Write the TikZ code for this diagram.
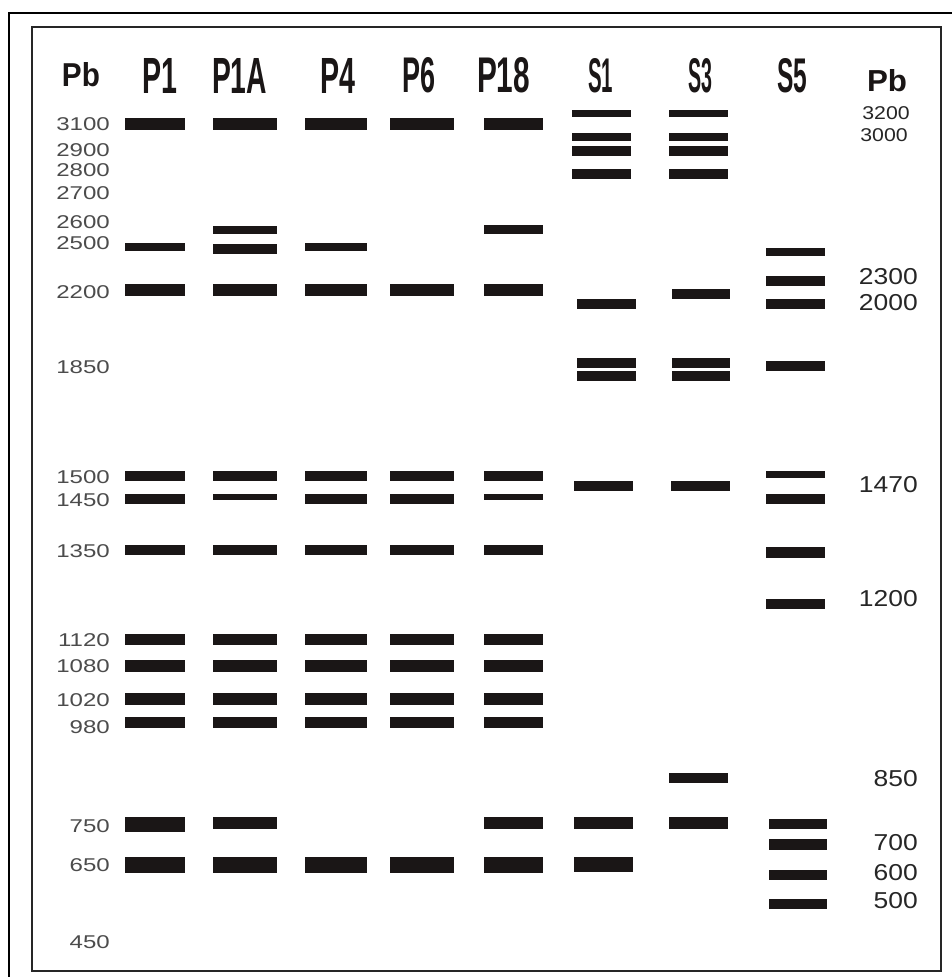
\documentclass[tikz,border=0pt]{standalone}
\usepackage{fontspec}
\setmainfont{Liberation Sans}
\newfontfamily\lblfont[FakeStretch=1.3]{Liberation Sans}
\newfontfamily\rlblfont[FakeStretch=1.15]{Liberation Sans}
\definecolor{bandc}{HTML}{1A1616}
\newcommand\gband[4]{\fill[bandc] (#1,#3) rectangle (#2,#4);}
\newcommand\hdrtxt[3]{\resizebox{#1pt}{#2pt}{\bfseries #3}}
\begin{document}
\begin{tikzpicture}[x=1pt,y=-1pt,
  lbl/.style={anchor=east,inner sep=0pt,text=black!70,font=\lblfont\fontsize{18.5pt}{18.5pt}\selectfont},
  rlbl/.style={anchor=east,inner sep=0pt,text=black!85,font=\rlblfont\fontsize{23pt}{23pt}\selectfont},
  slbl/.style={anchor=center,inner sep=0pt,text=black!85,font=\rlblfont\fontsize{18.5pt}{18.5pt}\selectfont},
  hdr/.style={anchor=center,inner sep=0pt,text=bandc}]
\useasboundingbox (0,0) rectangle (952,977);
\fill[white] (0,0) rectangle (952,977);
% frames
\draw[line width=2pt] (9,977) -- (9,13) -- (952,13);
\draw[line width=2pt, black!85] (32,27) rectangle (941,971);

% headers
\node[hdr] (hPbL) at (81,75) {\hdrtxt{38}{24}{Pb}};
\node[hdr] (hP1) at (159.5,75.5) {\hdrtxt{35}{35}{P1}};
\node[hdr] (hP1A) at (239.5,75.5) {\hdrtxt{55}{35}{P1A}};
\node[hdr] (hP4) at (337.5,75.5) {\hdrtxt{35}{35}{P4}};
\node[hdr] (hP6) at (418.5,75.5) {\hdrtxt{33}{35}{P6}};
\node[hdr] (hP18) at (503.5,75.5) {\hdrtxt{53}{35}{P18}};
\node[hdr] (hS1) at (600.5,76) {\hdrtxt{25}{34}{S1}};
\node[hdr] (hS3) at (700,76) {\hdrtxt{24}{34}{S3}};
\node[hdr] (hS5) at (792,76) {\hdrtxt{30}{34}{S5}};
\node[hdr] (hPbR) at (887,81) {\hdrtxt{40}{22}{Pb}};

% left labels
\foreach \t/\y [count=\i] in {3100/124,2900/150,2800/170,2700/193,2600/222,2500/243,2200/292,1850/367,1500/477,1450/500,1350/551,1120/640,1080/666,1020/700,980/727,750/826,650/865,450/942}
  \node[lbl] (L\i) at (110,\y) {\t};

% right labels
\node[slbl] (R1) at (886,113) {3200};
\node[slbl] (R2) at (884,135) {3000};
\foreach \t/\y [count=\i] in {2300/277,2000/303,1470/485,1200/599,850/779,700/843,600/873,500/901}
  \node[rlbl] (RR\i) at (918,\y) {\t};

% P lanes common bands
\foreach \xa/\xb in {125/185,213/277,305/367,390/454,484/543}{
  \foreach \ya/\yb in {118/130,284/296,471/481,545/555,634/645,660/672,693/705,717/728,857/873}{
    \gband{\xa}{\xb}{\ya}{\yb}
  }
}
% 1450
\gband{125}{185}{494}{504}
\gband{213}{277}{494}{500}
\gband{305}{367}{494}{504}
\gband{390}{454}{494}{504}
\gband{484}{543}{494}{500}
% 2500
\gband{125}{185}{243}{251}
\gband{213}{277}{244}{254}
\gband{305}{367}{243}{251}
% 2600
\gband{213}{277}{226}{234}
\gband{484}{543}{225}{234}
% 750
\gband{125}{185}{817}{832}
\gband{213}{277}{817}{829}
\gband{484}{543}{817}{829}

% S1
\foreach \ya/\yb in {110/117,133/141,146/156,169/179}{\gband{572}{631}{\ya}{\yb}}
\gband{577}{636}{299}{309}
\gband{577}{636}{358}{368}
\gband{577}{636}{371}{381}
\gband{574}{633}{481}{491}
\gband{574}{633}{817}{829}
\gband{574}{633}{857}{872}
% S3
\foreach \ya/\yb in {110/117,133/141,146/156,169/179}{\gband{669}{728}{\ya}{\yb}}
\gband{672}{730}{289}{299}
\gband{672}{730}{358}{368}
\gband{672}{730}{371}{381}
\gband{671}{730}{481}{491}
\gband{669}{728}{773}{783}
\gband{669}{728}{817}{829}
% S5
\foreach \ya/\yb in {248/256,276/286,299/309,361/371,471/478,494/504,547/558,599/609}{\gband{766}{825}{\ya}{\yb}}
\foreach \ya/\yb in {819/829,839/850,870/880,899/909}{\gband{769}{827}{\ya}{\yb}}
\end{tikzpicture}
\end{document}
